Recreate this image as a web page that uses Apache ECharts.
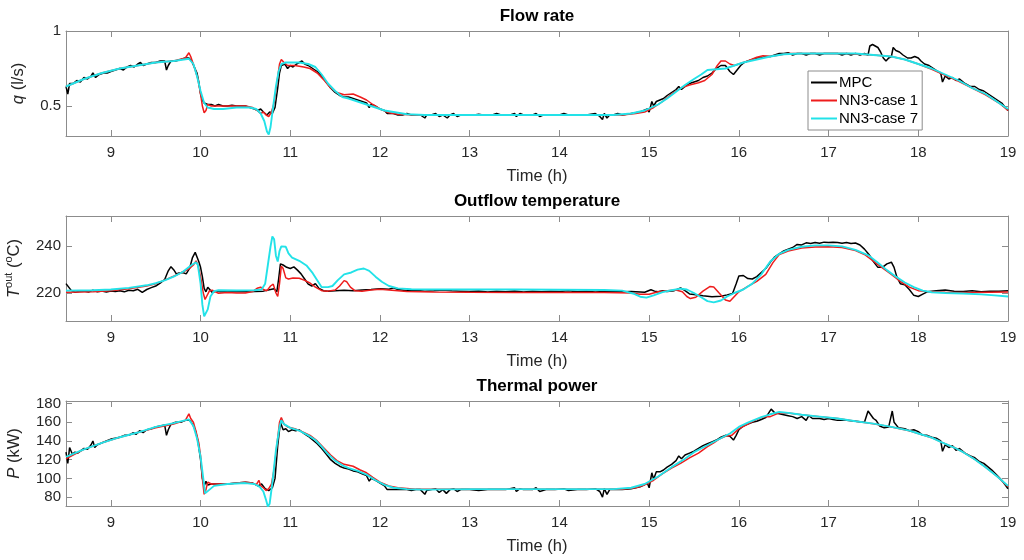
<!DOCTYPE html>
<html lang="en">
<head>
  <meta charset="UTF-8">
  <title>MPC vs NN3</title>
  <script src="https://cdn.jsdelivr.net/npm/echarts@6/dist/echarts.min.js"></script>
</head>
<body style="margin:0;background:#fff">
<div id="main" style="width:1024px;height:560px;"></div>
<script type="text/javascript">
    // --- data: [time (h), value] ---
    var timeTicks = [9, 10, 11, 12, 13, 14, 15, 16, 17, 18, 19];
    var flowTicks = [0.5, 1];
    var tempTicks = [220, 240];
    var powerTicks = [80, 100, 120, 140, 160, 180];
    var seriesNames = ['MPC', 'NN3-case 1', 'NN3-case 7'];

    // Flow rate q (l/s)
    var flowMPC = [[8.5,0.63],[8.52,0.58],[8.54,0.65],[8.58,0.65],[8.62,0.67],[8.66,0.66],[8.7,0.69],[8.74,0.68],[8.78,0.7],[8.8,0.72],[8.83,0.69],[8.87,0.71],[8.92,0.72],[8.96,0.72],[9,0.73],[9.05,0.74],[9.1,0.75],[9.14,0.74],[9.18,0.76],[9.22,0.77],[9.26,0.76],[9.3,0.78],[9.33,0.79],[9.36,0.77],[9.4,0.78],[9.45,0.79],[9.5,0.79],[9.55,0.8],[9.6,0.8],[9.62,0.74],[9.64,0.77],[9.67,0.8],[9.72,0.8],[9.78,0.81],[9.83,0.82],[9.87,0.82],[9.9,0.8],[9.93,0.76],[9.96,0.72],[9.98,0.66],[10,0.58],[10.02,0.54],[10.04,0.52],[10.06,0.53],[10.08,0.51],[10.12,0.51],[10.16,0.5],[10.2,0.51],[10.25,0.5],[10.3,0.5],[10.35,0.505],[10.4,0.5],[10.45,0.5],[10.5,0.5],[10.55,0.49],[10.6,0.48],[10.64,0.47],[10.67,0.48],[10.7,0.46],[10.74,0.44],[10.77,0.46],[10.8,0.45],[10.83,0.49],[10.86,0.62],[10.88,0.72],[10.9,0.77],[10.92,0.76],[10.94,0.78],[10.97,0.75],[11,0.77],[11.03,0.76],[11.07,0.78],[11.1,0.79],[11.13,0.8],[11.16,0.78],[11.2,0.77],[11.25,0.75],[11.3,0.73],[11.35,0.7],[11.4,0.66],[11.45,0.62],[11.5,0.59],[11.55,0.57],[11.6,0.56],[11.65,0.56],[11.7,0.55],[11.75,0.54],[11.8,0.53],[11.85,0.52],[11.88,0.49],[11.9,0.51],[11.95,0.5],[12,0.48],[12.05,0.47],[12.08,0.45],[12.1,0.46],[12.15,0.45],[12.2,0.44],[12.25,0.44],[12.3,0.45],[12.35,0.44],[12.4,0.44],[12.45,0.44],[12.5,0.42],[12.52,0.44],[12.57,0.44],[12.62,0.45],[12.66,0.43],[12.7,0.44],[12.75,0.42],[12.78,0.44],[12.82,0.45],[12.86,0.43],[12.9,0.44],[12.95,0.44],[13,0.44],[13.05,0.44],[13.1,0.445],[13.15,0.44],[13.2,0.44],[13.25,0.44],[13.3,0.45],[13.35,0.44],[13.4,0.44],[13.45,0.44],[13.5,0.45],[13.52,0.43],[13.56,0.45],[13.6,0.44],[13.65,0.44],[13.7,0.44],[13.74,0.45],[13.78,0.43],[13.82,0.44],[13.88,0.44],[13.95,0.44],[14,0.44],[14.05,0.45],[14.1,0.44],[14.15,0.44],[14.2,0.44],[14.3,0.44],[14.4,0.45],[14.45,0.43],[14.48,0.41],[14.5,0.45],[14.53,0.42],[14.56,0.44],[14.6,0.44],[14.65,0.45],[14.7,0.44],[14.8,0.45],[14.9,0.46],[14.98,0.48],[15,0.46],[15.03,0.53],[15.05,0.5],[15.08,0.53],[15.12,0.54],[15.16,0.55],[15.2,0.57],[15.25,0.59],[15.3,0.61],[15.33,0.63],[15.36,0.61],[15.4,0.63],[15.45,0.65],[15.5,0.66],[15.55,0.67],[15.6,0.69],[15.65,0.7],[15.7,0.72],[15.75,0.75],[15.8,0.77],[15.85,0.77],[15.9,0.73],[15.94,0.71],[15.98,0.74],[16.02,0.77],[16.06,0.79],[16.1,0.8],[16.15,0.81],[16.2,0.82],[16.25,0.82],[16.3,0.83],[16.35,0.83],[16.4,0.84],[16.45,0.85],[16.5,0.85],[16.55,0.855],[16.6,0.84],[16.65,0.85],[16.7,0.85],[16.75,0.84],[16.8,0.85],[16.85,0.85],[16.9,0.84],[16.95,0.85],[17,0.85],[17.05,0.85],[17.1,0.85],[17.15,0.84],[17.2,0.85],[17.25,0.84],[17.3,0.85],[17.35,0.84],[17.4,0.85],[17.44,0.84],[17.46,0.9],[17.49,0.91],[17.52,0.9],[17.55,0.89],[17.58,0.86],[17.61,0.82],[17.64,0.8],[17.67,0.82],[17.7,0.83],[17.72,0.89],[17.75,0.87],[17.79,0.86],[17.83,0.84],[17.88,0.82],[17.92,0.82],[17.96,0.83],[18,0.82],[18.03,0.8],[18.07,0.78],[18.12,0.77],[18.17,0.75],[18.22,0.73],[18.25,0.72],[18.27,0.66],[18.3,0.7],[18.34,0.68],[18.38,0.69],[18.42,0.67],[18.46,0.68],[18.52,0.65],[18.58,0.63],[18.63,0.63],[18.68,0.61],[18.73,0.6],[18.78,0.58],[18.83,0.56],[18.88,0.54],[18.93,0.52],[18.97,0.49],[19,0.47]];
    var flowCase1 = [[8.5,0.63],[8.7,0.68],[8.9,0.72],[9.1,0.75],[9.3,0.77],[9.5,0.79],[9.7,0.8],[9.83,0.82],[9.87,0.855],[9.89,0.83],[9.93,0.76],[9.97,0.68],[10,0.58],[10.02,0.5],[10.04,0.455],[10.06,0.47],[10.08,0.51],[10.12,0.5],[10.2,0.5],[10.3,0.5],[10.4,0.5],[10.5,0.5],[10.58,0.49],[10.63,0.47],[10.65,0.48],[10.67,0.45],[10.7,0.46],[10.73,0.44],[10.76,0.43],[10.79,0.46],[10.82,0.52],[10.85,0.65],[10.88,0.78],[10.9,0.81],[10.93,0.79],[10.97,0.77],[11.05,0.77],[11.15,0.76],[11.22,0.75],[11.3,0.72],[11.38,0.67],[11.45,0.62],[11.52,0.59],[11.6,0.575],[11.7,0.58],[11.78,0.56],[11.85,0.54],[11.92,0.51],[12,0.48],[12.1,0.455],[12.2,0.445],[12.4,0.44],[13,0.44],[14,0.44],[14.7,0.44],[14.85,0.45],[14.95,0.46],[15.05,0.49],[15.15,0.53],[15.25,0.58],[15.35,0.62],[15.45,0.64],[15.55,0.655],[15.62,0.67],[15.7,0.71],[15.76,0.77],[15.8,0.8],[15.85,0.8],[15.9,0.78],[15.95,0.77],[16,0.78],[16.1,0.8],[16.2,0.825],[16.27,0.835],[16.35,0.83],[16.45,0.84],[16.55,0.85],[16.8,0.85],[17.2,0.85],[17.5,0.84],[17.7,0.83],[17.85,0.81],[18,0.78],[18.15,0.745],[18.3,0.705],[18.45,0.665],[18.6,0.62],[18.75,0.575],[18.9,0.52],[19,0.47]];
    var flowCase7 = [[8.5,0.63],[8.7,0.68],[8.9,0.72],[9.1,0.75],[9.3,0.77],[9.5,0.79],[9.7,0.8],[9.87,0.815],[9.92,0.78],[9.96,0.7],[10,0.6],[10.04,0.52],[10.08,0.49],[10.15,0.48],[10.25,0.48],[10.4,0.49],[10.55,0.49],[10.62,0.48],[10.67,0.45],[10.71,0.4],[10.74,0.33],[10.76,0.31],[10.78,0.36],[10.81,0.5],[10.84,0.63],[10.87,0.73],[10.9,0.78],[10.95,0.79],[11,0.79],[11.1,0.79],[11.2,0.78],[11.28,0.76],[11.35,0.71],[11.42,0.65],[11.5,0.6],[11.58,0.56],[11.65,0.55],[11.75,0.53],[11.85,0.51],[11.95,0.49],[12.05,0.47],[12.15,0.46],[12.3,0.445],[12.5,0.44],[13,0.44],[14,0.44],[14.6,0.44],[14.8,0.45],[14.95,0.47],[15.1,0.51],[15.2,0.55],[15.3,0.595],[15.4,0.64],[15.5,0.68],[15.58,0.71],[15.65,0.74],[15.75,0.745],[15.85,0.75],[15.95,0.77],[16.05,0.79],[16.2,0.81],[16.35,0.83],[16.5,0.845],[16.7,0.85],[17,0.85],[17.3,0.85],[17.5,0.84],[17.7,0.83],[17.85,0.81],[18,0.78],[18.15,0.75],[18.3,0.71],[18.45,0.67],[18.6,0.62],[18.75,0.58],[18.9,0.52],[19,0.48]];

    // Outflow temperature (°C)
    var tempMPC = [[8.5,224],[8.53,222.5],[8.56,221],[8.6,220.3],[8.65,220.6],[8.7,220.8],[8.75,220.4],[8.8,221.2],[8.85,220.5],[8.9,220.8],[8.95,220.4],[9,220.9],[9.05,220.6],[9.1,221],[9.15,220.5],[9.2,221.2],[9.25,221],[9.3,221.6],[9.35,220.3],[9.4,221.5],[9.45,222.3],[9.5,223],[9.55,224.2],[9.6,225.8],[9.64,229.5],[9.67,231.3],[9.7,230],[9.73,228.2],[9.76,228.6],[9.8,228.8],[9.84,228.2],[9.88,230.8],[9.91,235.2],[9.94,237.4],[9.96,236.8],[9.98,233.5],[10,231],[10.02,227],[10.04,222],[10.06,220.5],[10.08,222.5],[10.1,221.6],[10.13,220.2],[10.17,220.8],[10.22,220.5],[10.3,220.6],[10.4,220.5],[10.5,220.5],[10.6,220.6],[10.7,220.8],[10.78,221.5],[10.82,221.8],[10.85,220.5],[10.87,226],[10.89,232.5],[10.92,232],[10.96,231],[11,230.5],[11.04,231.2],[11.08,229.8],[11.12,228.2],[11.16,226],[11.2,223.8],[11.24,223],[11.28,224],[11.32,222],[11.37,221],[11.42,220.8],[11.5,221],[11.6,221.2],[11.7,221],[11.8,221.3],[11.9,221.5],[12,221.8],[12.1,221.6],[12.15,222.2],[12.2,221.5],[12.3,221],[12.4,221.2],[12.5,220.8],[12.6,221],[12.7,221.3],[12.8,221],[12.9,220.8],[13,220.6],[13.1,220.9],[13.2,220.4],[13.3,220.7],[13.4,220.5],[13.5,220.9],[13.6,220.4],[13.7,220.7],[13.8,220.5],[13.9,220.8],[14,220.6],[14.1,221],[14.2,220.5],[14.3,220.7],[14.4,220.4],[14.5,220.6],[14.6,220.8],[14.7,220.5],[14.8,220.6],[14.9,220.4],[14.95,220.3],[15.02,221.4],[15.06,220.8],[15.1,220.5],[15.15,221],[15.2,220.6],[15.28,221],[15.35,222.2],[15.4,221],[15.45,219.6],[15.5,219.4],[15.6,218.8],[15.7,218.4],[15.8,218.6],[15.87,219.2],[15.93,219.8],[15.97,224],[16,227.3],[16.05,227.5],[16.1,226.2],[16.15,226],[16.2,227],[16.25,228.8],[16.3,230.5],[16.35,233.2],[16.4,235.5],[16.45,236.8],[16.5,238],[16.55,238.8],[16.6,239.5],[16.65,240.8],[16.7,240.6],[16.75,241.5],[16.8,241.2],[16.85,241.6],[16.9,241.3],[16.95,241.8],[17,241.6],[17.05,241.8],[17.1,241.6],[17.15,241.3],[17.2,241.6],[17.25,241.2],[17.3,241.4],[17.35,240.6],[17.4,238.8],[17.45,236.5],[17.5,233.5],[17.55,231],[17.6,231],[17.65,232.5],[17.7,233.2],[17.73,231],[17.76,227],[17.8,224],[17.85,223.5],[17.9,221.5],[17.95,219],[18,218.5],[18.05,219.5],[18.1,220.5],[18.2,221],[18.3,221.3],[18.4,220.8],[18.5,220.6],[18.6,221],[18.7,220.5],[18.8,220.7],[18.9,220.8],[19,221]];
    var tempCase1 = [[8.5,220.3],[8.8,220.5],[9,221],[9.2,221.8],[9.4,223],[9.5,224],[9.6,225.5],[9.7,227.2],[9.8,229],[9.87,230.3],[9.92,232],[9.95,233.8],[9.97,232],[10,227],[10.03,220],[10.05,217.2],[10.07,218],[10.1,221],[10.13,221.2],[10.2,219.9],[10.3,220.2],[10.4,220],[10.5,220],[10.58,220.6],[10.63,222],[10.67,222.5],[10.7,221.5],[10.74,221],[10.78,223],[10.81,223.8],[10.84,220],[10.86,218.5],[10.88,224],[10.9,231.5],[10.92,230.5],[10.95,226.5],[10.98,226],[11.03,226.4],[11.1,226.3],[11.16,225.4],[11.22,224.3],[11.28,222.5],[11.35,221],[11.42,220.8],[11.5,221.3],[11.55,223],[11.6,225.3],[11.63,224.8],[11.67,222.5],[11.72,221],[11.8,220.8],[11.9,221.3],[12,221.6],[12.1,221.3],[12.3,220.6],[12.6,220.4],[13,220.3],[13.5,220.2],[14,220.2],[14.5,220.2],[14.8,220],[14.9,219.5],[15,219.5],[15.1,220.5],[15.2,221],[15.3,221.3],[15.37,220.5],[15.42,218.5],[15.46,217.6],[15.52,218.2],[15.6,220.8],[15.68,222.8],[15.72,222.6],[15.78,220],[15.85,217],[15.9,216.5],[15.95,218.5],[16,220.5],[16.1,222.8],[16.2,225],[16.3,228],[16.38,233],[16.45,236.5],[16.55,238],[16.7,239.3],[16.85,239.7],[17,239.8],[17.15,239.5],[17.3,238.2],[17.4,236.5],[17.5,233.7],[17.6,230.8],[17.7,228],[17.8,225],[17.9,222.5],[18,221],[18.1,220.6],[18.3,220.3],[18.6,220.2],[19,220.4]];
    var tempCase7 = [[8.5,221],[8.8,221.2],[9,221.5],[9.2,222.2],[9.4,223.3],[9.5,224.2],[9.6,225.4],[9.7,227],[9.8,229],[9.9,232],[9.95,233.2],[9.97,232],[10,224],[10.02,215],[10.04,210],[10.06,209.5],[10.08,213],[10.11,218.5],[10.15,220.8],[10.2,221.2],[10.4,221.1],[10.6,221.2],[10.68,221.5],[10.72,224],[10.75,232],[10.78,240],[10.8,244.2],[10.82,243],[10.84,236],[10.86,233.5],[10.88,238],[10.9,240],[10.95,239.8],[10.98,237],[11.02,235.2],[11.1,233.8],[11.18,231.8],[11.25,228.5],[11.3,225.5],[11.35,222.5],[11.42,222.5],[11.47,223],[11.53,225.5],[11.6,228],[11.68,228.8],[11.75,230],[11.82,230.5],[11.88,229.5],[11.95,227],[12.02,224.8],[12.1,223],[12.2,222],[12.35,221.6],[12.6,221.5],[13,221.5],[13.5,221.5],[14,221.4],[14.5,221.3],[14.7,221],[14.82,219.8],[14.9,218.4],[14.97,218],[15.05,219],[15.15,220.4],[15.25,221.2],[15.35,221.9],[15.42,221.5],[15.5,220],[15.58,218.2],[15.65,216.5],[15.72,216],[15.8,216.8],[15.87,218.5],[15.95,220],[16.05,221.5],[16.15,224],[16.25,228],[16.35,233.5],[16.45,236.8],[16.55,238.5],[16.7,239.8],[16.85,240.4],[17,240.4],[17.15,240],[17.3,238.5],[17.45,236],[17.55,233],[17.65,229.8],[17.75,227],[17.85,224.5],[17.95,222.5],[18.05,221],[18.15,220.3],[18.3,220],[18.5,219.8],[18.7,219.4],[18.85,219],[19,218.5]];

    // Thermal power P (kW)
    var powerMPC = [[8.5,128],[8.52,116],[8.54,133],[8.57,126],[8.6,128],[8.63,127],[8.67,130],[8.7,132],[8.74,131],[8.78,136],[8.8,140],[8.82,133],[8.85,136],[8.9,138],[8.95,140],[9,142],[9.05,143],[9.1,144],[9.15,146],[9.2,146],[9.25,149],[9.28,147],[9.32,151],[9.36,149],[9.4,152],[9.45,153],[9.5,155],[9.55,156],[9.6,157],[9.62,146],[9.64,152],[9.67,158],[9.72,160],[9.78,160],[9.83,162],[9.88,162],[9.91,158],[9.94,152],[9.97,140],[10,120],[10.02,100],[10.04,92],[10.06,97],[10.08,93],[10.12,94],[10.2,94],[10.3,94],[10.4,95],[10.5,96],[10.58,95],[10.64,92],[10.68,94],[10.72,89],[10.76,87],[10.8,90],[10.83,100],[10.86,135],[10.89,160],[10.92,152],[10.95,153],[10.98,150],[11.02,152],[11.06,151],[11.1,152],[11.15,148],[11.2,145],[11.25,141],[11.3,137],[11.35,132],[11.4,126],[11.45,120],[11.5,116],[11.55,113],[11.6,111],[11.65,110],[11.7,108],[11.75,107],[11.8,105],[11.85,103],[11.88,97],[11.9,100],[11.95,98],[12,95],[12.05,92],[12.08,88],[12.1,90],[12.15,88],[12.2,88],[12.3,88],[12.35,87],[12.4,88],[12.45,88],[12.5,83],[12.52,87],[12.57,88],[12.62,89],[12.66,85],[12.7,88],[12.74,84],[12.78,88],[12.82,89],[12.86,86],[12.9,88],[13,88],[13.1,87],[13.2,88],[13.3,88],[13.4,88],[13.5,90],[13.52,86],[13.56,89],[13.6,88],[13.7,88],[13.74,90],[13.78,86],[13.85,88],[13.95,88],[14.05,89],[14.1,87],[14.2,88],[14.3,88],[14.4,89],[14.45,86],[14.48,80],[14.5,89],[14.53,83],[14.56,88],[14.6,88],[14.7,88],[14.8,89],[14.9,91],[14.98,95],[15,90],[15.03,106],[15.05,99],[15.08,107],[15.12,107],[15.16,109],[15.2,112],[15.25,115],[15.3,119],[15.33,124],[15.36,121],[15.4,125],[15.45,127],[15.5,129],[15.55,132],[15.6,135],[15.65,137],[15.7,139],[15.75,141],[15.8,144],[15.85,146],[15.9,145],[15.94,141],[15.97,146],[16,152],[16.05,156],[16.1,158],[16.15,160],[16.2,161],[16.25,163],[16.3,165],[16.36,174],[16.4,170],[16.45,169],[16.5,168],[16.55,167],[16.6,166],[16.65,164],[16.7,166],[16.75,162],[16.78,167],[16.82,164],[16.9,164],[16.95,163],[17,164],[17.05,163],[17.1,162],[17.2,162],[17.3,161],[17.4,160],[17.42,159],[17.44,172],[17.47,168],[17.5,164],[17.53,162],[17.57,156],[17.62,154],[17.67,155],[17.71,172],[17.73,160],[17.78,154],[17.85,153],[17.9,151],[17.95,152],[18,150],[18.05,146],[18.1,146],[18.15,144],[18.2,143],[18.25,140],[18.27,129],[18.3,136],[18.34,133],[18.38,135],[18.42,130],[18.46,132],[18.52,127],[18.58,124],[18.63,122],[18.68,118],[18.73,116],[18.78,112],[18.83,108],[18.88,103],[18.93,98],[18.97,93],[19,89]];
    var powerCase1 = [[8.5,121],[8.7,131],[8.9,138],[9.1,144],[9.3,149],[9.5,154],[9.7,158],[9.83,162],[9.87,169],[9.89,164],[9.92,160],[9.95,150],[9.98,138],[10,124],[10.02,100],[10.04,83],[10.06,88],[10.08,96],[10.12,94],[10.2,94],[10.3,94],[10.4,95],[10.5,96],[10.58,95],[10.62,93],[10.65,98],[10.67,92],[10.7,90],[10.73,87],[10.76,89],[10.79,94],[10.82,110],[10.85,135],[10.88,160],[10.9,165],[10.93,158],[10.97,155],[11.05,153],[11.15,149],[11.22,146],[11.3,140],[11.38,132],[11.45,125],[11.52,119],[11.6,115],[11.65,114],[11.7,113],[11.78,109],[11.85,106],[11.92,101],[12,96],[12.1,92],[12.2,90],[12.4,88.5],[13,88.5],[14,88.5],[14.7,88.5],[14.85,90],[14.95,93],[15.05,98],[15.15,105],[15.25,111],[15.35,116],[15.45,122],[15.55,127],[15.65,134],[15.72,138],[15.78,142],[15.85,145],[15.92,146],[16,153],[16.1,158],[16.2,163],[16.27,166],[16.35,166],[16.45,170],[16.55,170],[16.7,168],[16.9,166],[17.1,164],[17.3,161],[17.5,158.5],[17.7,155],[17.9,151],[18,148],[18.15,143.5],[18.25,139],[18.4,133],[18.5,128],[18.62,121],[18.75,112],[18.88,102],[19,91]];
    var powerCase7 = [[8.5,123],[8.7,131],[8.9,138],[9.1,144],[9.3,149],[9.5,155],[9.7,159],[9.87,163],[9.92,156],[9.96,143],[10,123],[10.03,100],[10.05,84],[10.07,82],[10.1,88],[10.15,92],[10.3,94],[10.5,95],[10.6,94],[10.66,91],[10.7,86],[10.73,77],[10.75,70],[10.77,73],[10.8,95],[10.84,130],[10.88,155],[10.9,162],[10.93,158],[11,154],[11.1,151],[11.2,146],[11.28,141],[11.35,134],[11.42,126],[11.5,119],[11.58,114],[11.65,111],[11.75,108],[11.85,104],[11.95,98],[12.05,93],[12.15,90],[12.3,88.5],[12.5,88],[13,88.5],[14,88.5],[14.6,88.5],[14.8,90],[14.95,94],[15.1,102],[15.25,112],[15.4,121],[15.5,128],[15.6,133],[15.75,140.5],[15.9,148],[16,155],[16.1,159.5],[16.25,165.5],[16.35,168.5],[16.45,171],[16.55,170],[16.7,168],[16.9,166],[17.1,164],[17.3,161],[17.5,158.5],[17.7,155],[17.9,151],[18,148],[18.15,143.5],[18.25,139],[18.4,133],[18.5,128],[18.62,121],[18.75,112],[18.88,102],[19,92]];

    var panels = [
        {title: 'Flow rate', name: '{i|q} (l/s)', gap: 31, min: 0.3, max: 1.0, ticks: flowTicks, data: [flowMPC, flowCase1, flowCase7]},
        {title: 'Outflow temperature', name: '{i|T}{s|out} ({s|o}C)', gap: 35, min: 208, max: 253, ticks: tempTicks, data: [tempMPC, tempCase1, tempCase7]},
        {title: 'Thermal power', name: '{i|P} (kW)', gap: 32, min: 70.5, max: 182.7, ticks: powerTicks, data: [powerMPC, powerCase1, powerCase7]}
    ];

    var font = 'Liberation Sans, Arial, sans-serif';
    var boxColor = '#8c8c8c';
    var textColor = '#262626';
    var colors = ['#000000', '#ee1c1c', '#22e2e8'];
    var widths = [1.5, 1.5, 1.9];
    var gridTops = [31, 216, 401];

    var myChart = echarts.init(document.getElementById('main'));

    var title = [], grid = [], xAxis = [], yAxis = [], series = [];
    panels.forEach(function (p, i) {
        title.push({
            text: p.title, left: 537, top: gridTops[i] - 23, textAlign: 'center', padding: 0,
            textStyle: {fontFamily: font, fontSize: 17, fontWeight: 'bold', color: '#000'}
        });
        // fixed plot box, no auto shrinking for labels
        grid.push({left: 66, top: gridTops[i], width: 942, height: 105, containLabel: false, outerBoundsMode: 'none'});
        var line = {show: true, onZero: false, lineStyle: {color: boxColor, width: 1}};
        var tick = {show: true, inside: true, length: 6, lineStyle: {color: boxColor}};
        // bottom axis (labels + name) and top axis (box + ticks)
        xAxis.push({
            type: 'value', gridIndex: i, min: 8.5, max: 19, position: 'bottom',
            axisLine: line, splitLine: {show: false},
            axisTick: Object.assign({customValues: timeTicks}, tick),
            axisLabel: {customValues: timeTicks, color: textColor, fontFamily: font, fontSize: 15, margin: 9},
            name: 'Time (h)', nameLocation: 'middle', nameGap: 32,
            nameTextStyle: {color: textColor, fontFamily: font, fontSize: 16.5}
        });
        xAxis.push({
            type: 'value', gridIndex: i, min: 8.5, max: 19, position: 'top',
            axisLine: line, splitLine: {show: false},
            axisTick: Object.assign({customValues: timeTicks}, tick),
            axisLabel: {show: false}
        });
        yAxis.push({
            type: 'value', gridIndex: i, min: p.min, max: p.max, position: 'left',
            axisLine: line, splitLine: {show: false},
            axisTick: Object.assign({customValues: p.ticks}, tick),
            axisLabel: {customValues: p.ticks, color: textColor, fontFamily: font, fontSize: 15, margin: 5},
            name: p.name, nameLocation: 'middle', nameGap: p.gap,
            nameTextStyle: {
                color: textColor, fontFamily: font, fontSize: 16.5, lineHeight: 22,
                rich: {
                    i: {fontStyle: 'italic', fontSize: 16.5, fontFamily: font, color: textColor, lineHeight: 22},
                    s: {fontSize: 11, fontFamily: font, color: textColor, lineHeight: 11, verticalAlign: 'top'}
                }
            }
        });
        yAxis.push({
            type: 'value', gridIndex: i, min: p.min, max: p.max, position: 'right',
            axisLine: line, splitLine: {show: false},
            axisTick: Object.assign({customValues: p.ticks}, tick),
            axisLabel: {show: false}
        });
        p.data.forEach(function (d, k) {
            series.push({
                name: seriesNames[k], type: 'line', xAxisIndex: 2 * i, yAxisIndex: 2 * i,
                data: d, showSymbol: false, symbol: 'none', clip: true,
                lineStyle: {color: colors[k], width: widths[k]},
                itemStyle: {color: colors[k]},
                z: 2 + k
            });
        });
    });

    var option = {
        animation: false,
        backgroundColor: '#fff',
        title: title,
        grid: grid,
        xAxis: xAxis,
        yAxis: yAxis,
        legend: {
            data: seriesNames, orient: 'vertical', left: 808, top: 71,
            padding: [4, 4, 4, 3], itemGap: 3, itemWidth: 26, itemHeight: 2, icon: 'rect',
            backgroundColor: '#fff', borderColor: boxColor, borderWidth: 1,
            textStyle: {fontFamily: font, fontSize: 15, color: '#000', padding: [0, 0, 0, -3]}
        },
        series: series
    };

    myChart.setOption(option);
</script>
</body>
</html>
